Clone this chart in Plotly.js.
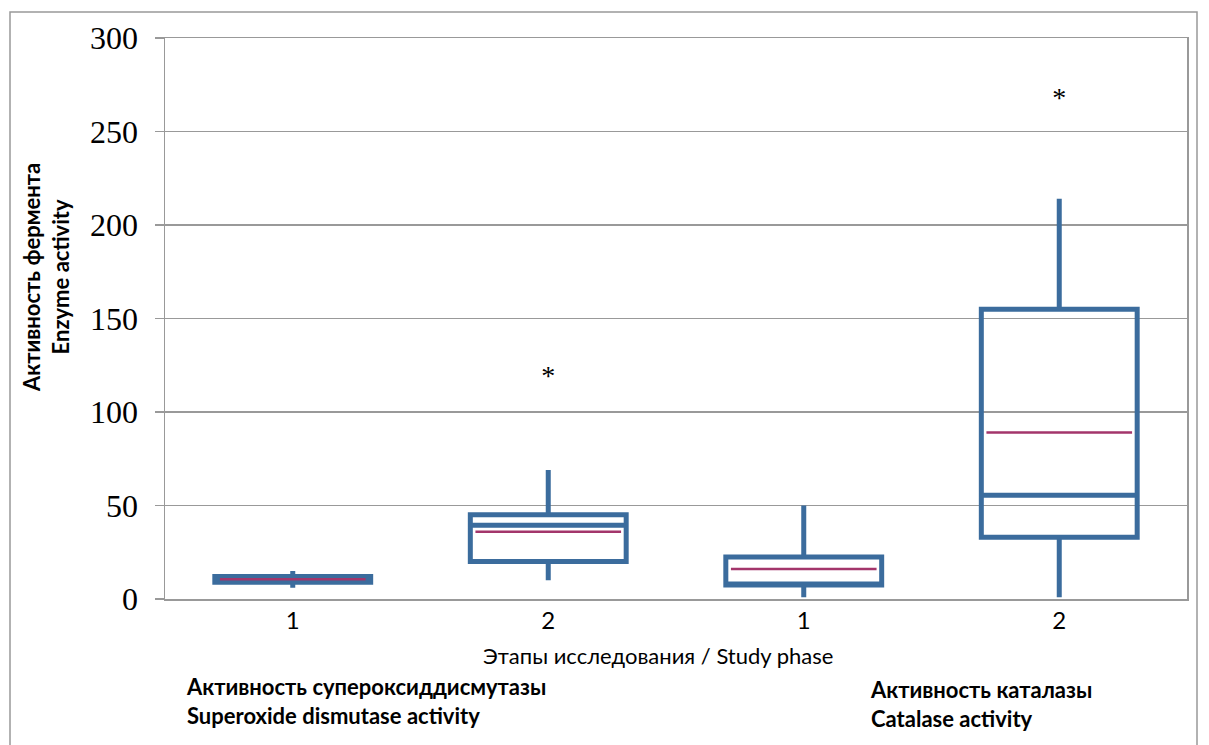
<!DOCTYPE html>
<html><head><meta charset="utf-8">
<script src="https://cdn.plot.ly/plotly-3.0.1.min.js"></script>
<style>html,body{margin:0;padding:0;background:#fff;}#chart{width:1209px;height:745px;}</style>
</head><body><div id="chart"></div>
<script>
// Data
const positions = [1, 2, 3, 4];
const tickLabels = ['1', '2', '1', '2'];
const q1 = [9, 20, 7.5, 33];
const median = [10, 39.5, 8, 55.5];
const q3 = [12, 45, 22.5, 155];
const lowerWhisker = [6, 10, 1, 1];
const upperWhisker = [15, 69, 50, 214];
const means = [10.5, 36, 16, 89];
const outlierX = [2, 4];
const outlierY = [118, 267];

const boxColor = '#3B6C9D';
const meanColor = '#A3356B';
const boxWidth = 0.61;

const traces = [];
positions.forEach((p, i) => {
  traces.push({
    type: 'box', x: [p], q1: [q1[i]], median: [median[i]], q3: [q3[i]],
    lowerfence: [lowerWhisker[i]], upperfence: [upperWhisker[i]],
    width: boxWidth, whiskerwidth: 0, fillcolor: 'rgba(255,255,255,0)',
    line: {color: boxColor, width: 5}, boxpoints: false, showlegend: false, hoverinfo: 'skip'
  });
});
positions.forEach((p, i) => {
  traces.push({
    type: 'scatter', mode: 'lines', x: [p - boxWidth / 2 + 0.02, p + boxWidth / 2 - 0.02], y: [means[i], means[i]],
    line: {color: meanColor, width: 2.5}, showlegend: false, hoverinfo: 'skip'
  });
});
traces.push({
  type: 'scatter', mode: 'text', x: outlierX, y: outlierY, text: outlierX.map(() => '*'),
  textfont: {family: 'Liberation Serif, serif', size: 28, color: '#000'}, textposition: 'middle center',
  showlegend: false, hoverinfo: 'skip'
});

const L = 165, R = 22, T = 38, B = 146, W = 1209, H = 745;
const pw = W - L - R, ph = H - T - B;
const px = x => (x - L) / pw;
const py = y => (H - B - y) / ph;

const sans = 'Lato, Open Sans, Liberation Sans, sans-serif';
const layout = {
  width: W, height: H,
  margin: {l: L, r: R, t: T, b: B, pad: 0},
  paper_bgcolor: '#fff', plot_bgcolor: '#fff',
  showlegend: false,
  xaxis: {
    range: [0.5, 4.5], tickvals: positions, ticktext: tickLabels,
    showgrid: false, zeroline: false, showline: true, linecolor: '#999', linewidth: 1.5, mirror: true,
    ticks: '', tickfont: {family: sans, size: 24, color: '#000'}
  },
  yaxis: {
    range: [0, 300], dtick: 50, showgrid: true, gridcolor: '#999', gridwidth: 1.5,
    zeroline: false, showline: true, linecolor: '#999', linewidth: 1.5, mirror: true,
    ticks: 'outside', ticklen: 9, tickcolor: '#999', tickwidth: 1.5, ticklabelstandoff: 10,
    tickfont: {family: 'Liberation Serif, Times New Roman, serif', size: 32, color: '#000'}
  },
  annotations: [
    {xref: 'paper', yref: 'paper', x: px(658), y: py(655), text: 'Этапы исследования / Study phase',
     showarrow: false, xanchor: 'center', yanchor: 'middle', font: {family: sans, size: 22, color: '#000'}},
    {xref: 'paper', yref: 'paper', x: px(46), y: py(278), text: '<b>Активность фермента<br>Enzyme activity</b>',
     textangle: -90, showarrow: false, xanchor: 'center', yanchor: 'middle', font: {family: sans, size: 22, color: '#000'}},
    {xref: 'paper', yref: 'paper', x: px(184), y: py(701), align: 'left',
     text: '<b>Активность супероксиддисмутазы<br>Superoxide dismutase activity</b>',
     showarrow: false, xanchor: 'left', yanchor: 'middle', font: {family: sans, size: 22, color: '#000'}},
    {xref: 'paper', yref: 'paper', x: px(868), y: py(704), align: 'left',
     text: '<b>Активность каталазы<br>Catalase activity</b>',
     showarrow: false, xanchor: 'left', yanchor: 'middle', font: {family: sans, size: 22, color: '#000'}}
  ],
  shapes: [
    {type: 'rect', xref: 'paper', yref: 'paper', x0: px(10), x1: px(1197), y0: py(760), y1: py(12),
     line: {color: '#999', width: 1.5}, fillcolor: 'rgba(0,0,0,0)', layer: 'below'}
  ]
};
Plotly.newPlot('chart', traces, layout, {staticPlot: true, displayModeBar: false});
</script></body></html>
